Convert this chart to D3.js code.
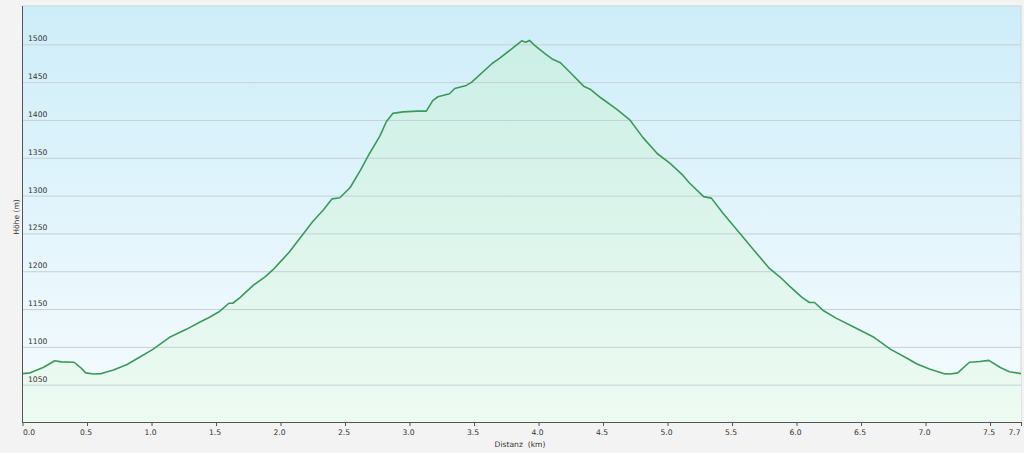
<!DOCTYPE html>
<html>
<head>
<meta charset="utf-8">
<script src="https://cdn.jsdelivr.net/npm/d3@7"></script>
<style>
  html, body { margin: 0; padding: 0; background: #f3f3f3; }
  svg { display: block; }
  text { font-family: "DejaVu Sans", Verdana, sans-serif; fill: #333; }
</style>
</head>
<body>
<svg id="chart" width="1024" height="453"></svg>
<script>
const distanceKm = [0, 0.06, 0.16, 0.25, 0.30, 0.40, 0.45, 0.49, 0.55, 0.61, 0.70, 0.81, 0.83, 0.91, 1.01, 1.14, 1.27, 1.38, 1.45, 1.53, 1.60, 1.63, 1.69, 1.79, 1.88, 1.94, 2.00, 2.07, 2.18, 2.25, 2.33, 2.40, 2.46, 2.54, 2.62, 2.69, 2.77, 2.82, 2.87, 2.95, 3.06, 3.13, 3.18, 3.22, 3.31, 3.35, 3.44, 3.48, 3.64, 3.70, 3.87, 3.90, 3.93, 3.97, 4.05, 4.11, 4.17, 4.24, 4.35, 4.40, 4.48, 4.61, 4.71, 4.81, 4.92, 5.02, 5.12, 5.17, 5.28, 5.34, 5.43, 5.56, 5.67, 5.79, 5.87, 5.95, 6.04, 6.10, 6.14, 6.21, 6.31, 6.44, 6.60, 6.73, 6.86, 6.93, 7.03, 7.14, 7.19, 7.25, 7.34, 7.42, 7.49, 7.58, 7.65, 7.74];
const elevationM = [1064, 1065, 1072, 1081, 1079.5, 1079, 1072, 1065, 1063.5, 1064, 1068.5, 1076, 1078, 1086, 1096, 1112, 1122.5, 1132.5, 1138.5, 1146.5, 1157, 1157, 1165, 1181, 1192, 1201, 1212, 1225, 1249.5, 1265, 1280, 1295, 1296.5, 1310, 1333, 1355, 1378, 1397, 1408, 1410, 1411, 1411, 1425, 1430, 1434, 1441, 1445, 1449, 1474, 1481, 1504, 1502, 1504.5, 1498, 1487, 1479.5, 1475, 1463, 1444, 1440, 1429, 1413, 1399, 1376, 1355, 1342, 1326, 1316, 1298, 1296, 1276, 1249.5, 1227, 1203, 1192, 1179, 1165, 1158, 1158, 1147, 1137, 1126, 1112, 1096, 1084, 1077, 1070, 1064, 1063.5, 1065, 1079, 1080, 1081.5, 1072, 1066.5, 1064];
const xTickValues = [0, 0.5, 1, 1.5, 2, 2.5, 3, 3.5, 4, 4.5, 5, 5.5, 6, 6.5, 7, 7.5, 7.74];
const xTickLabels = ["0.0", "0.5", "1.0", "1.5", "2.0", "2.5", "3.0", "3.5", "4.0", "4.5", "5.0", "5.5", "6.0", "6.5", "7.0", "7.5", "7.7"];
const yTickValues = [1050, 1100, 1150, 1200, 1250, 1300, 1350, 1400, 1450, 1500];
const yTickLabels = ["1050", "1100", "1150", "1200", "1250", "1300", "1350", "1400", "1450", "1500"];
const xTitle = "Distanz  (km)";
const yTitle = "Höhe (m)";

const data = distanceKm.map((d, i) => ({ x: d, y: elevationM[i] }));

const L = 22.5, R = 1021, T = 6, B = 422;
const x = d3.scaleLinear().domain([0, 7.74]).range([L, R]);
const y = d3.scaleLinear().domain([1000, 1550]).range([B, T]);

const svg = d3.select("#chart");
const defs = svg.append("defs");
const bg = defs.append("linearGradient").attr("id", "bgGrad")
  .attr("gradientUnits", "userSpaceOnUse").attr("x1", 0).attr("y1", T).attr("x2", 0).attr("y2", B);
bg.append("stop").attr("offset", "0%").attr("stop-color", "#cdedf9");
bg.append("stop").attr("offset", "100%").attr("stop-color", "#f7fcfe");
const ag = defs.append("linearGradient").attr("id", "areaGrad")
  .attr("gradientUnits", "userSpaceOnUse").attr("x1", 0).attr("y1", T).attr("x2", 0).attr("y2", B);
ag.append("stop").attr("offset", "0%").attr("stop-color", "#c8eee4");
ag.append("stop").attr("offset", "100%").attr("stop-color", "#eefbf2");

// plot background
svg.append("rect").attr("x", L).attr("y", T).attr("width", R - L).attr("height", B - T)
  .attr("fill", "url(#bgGrad)").attr("stroke", "#cfd6d8").attr("stroke-width", 1);

// area
svg.append("path").datum(data)
  .attr("fill", "url(#areaGrad)")
  .attr("d", d3.area().x(d => x(d.x)).y0(B).y1(d => y(d.y)));

// gridlines
const yAxis = d3.axisLeft(y).tickValues(yTickValues).tickSize(-(R - L)).tickFormat("");
const gy = svg.append("g").attr("transform", `translate(${L},0)`).call(yAxis);
gy.select(".domain").remove();
gy.selectAll(".tick line").attr("stroke", "#c5d0d4").attr("stroke-width", 1)
  .attr("transform", "translate(0,0.5)");

// y labels inside plot
svg.append("g").selectAll("text").data(yTickValues).join("text")
  .attr("x", 28).attr("y", d => y(d) - 2.5)
  .attr("font-size", "7.6px")
  .text((d, i) => yTickLabels[i]);

// line
svg.append("path").datum(data)
  .attr("fill", "none").attr("stroke", "#3a9a5c").attr("stroke-width", 1.6)
  .attr("stroke-linejoin", "round")
  .attr("d", d3.line().x(d => x(d.x)).y(d => y(d.y)));

// x axis
const xAxis = d3.axisBottom(x).tickValues(xTickValues).tickSize(4).tickFormat((d, i) => xTickLabels[i]);
const gx = svg.append("g").attr("transform", `translate(0,${B})`).call(xAxis);
gx.select(".domain").attr("stroke", "#555").attr("d", `M${L},0.5H${R}`);
gx.selectAll(".tick line").attr("stroke", "#555");
gx.selectAll(".tick text").attr("font-size", "7.6px").attr("fill", "#333")
  .attr("font-family", "DejaVu Sans, Verdana, sans-serif").attr("y", 8).attr("dx", "-1.5px")
  .attr("text-anchor", (d, i) => i === 0 ? "start" : (i === xTickValues.length - 1 ? "end" : "middle"))
  .attr("dx", (d, i) => i === 0 ? "0px" : (i === xTickValues.length - 1 ? "-1px" : "-1.5px"));

// left axis line
svg.append("line").attr("x1", L).attr("x2", L).attr("y1", T).attr("y2", B + 1)
  .attr("stroke", "#555").attr("stroke-width", 1);

// titles
svg.append("text").attr("x", 520).attr("y", 447).attr("text-anchor", "middle")
  .attr("font-size", "7.6px").style("white-space", "pre").attr("xml:space", "preserve").text(xTitle);
svg.append("text").attr("transform", "translate(18.5,217) rotate(-90)").attr("text-anchor", "middle")
  .attr("font-size", "7.6px").text(yTitle);
</script>
</body>
</html>
